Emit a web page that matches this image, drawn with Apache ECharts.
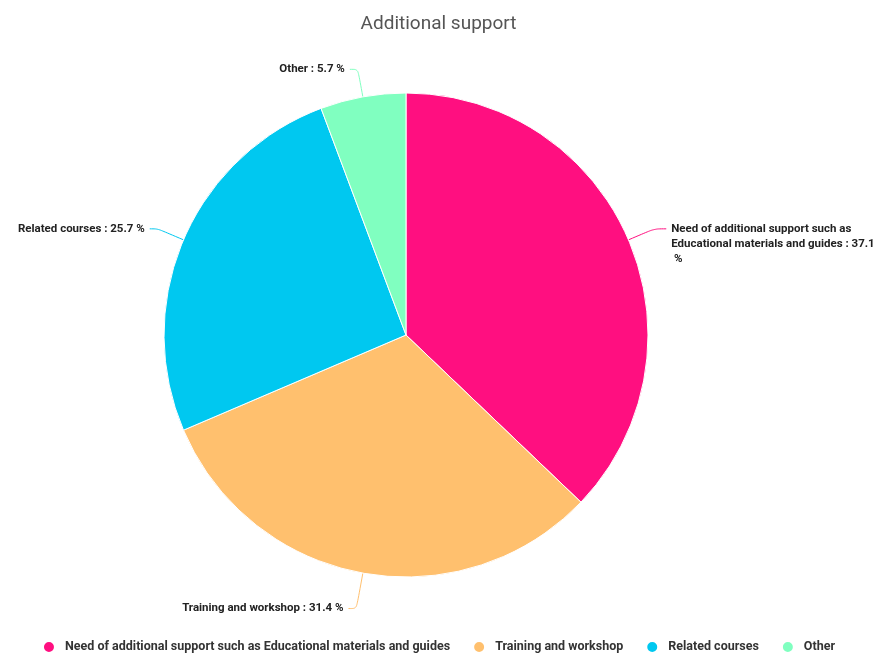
<!DOCTYPE html>
<html>
<head>
<meta charset="utf-8">
<script src="https://cdn.jsdelivr.net/npm/echarts@6/dist/echarts.min.js"></script>
<style>
  html, body { margin: 0; padding: 0; background: #fff; }
  #chart { width: 877px; height: 653px; }
</style>
</head>
<body>
<div id="chart"></div>
<script>
// Survey responses: kinds of additional support requested
const categories = [
  'Need of additional support such as Educational materials and guides',
  'Training and workshop',
  'Related courses',
  'Other'
];
const shares = [37.1, 31.4, 25.7, 5.7];
const sliceColors = ['#FF0F80', '#FFC06E', '#00C8F0', '#80FFC0'];

const chart = echarts.init(document.getElementById('chart'));

chart.setOption({
  backgroundColor: '#ffffff',
  color: sliceColors,
  title: {
    text: 'Additional support',
    left: 'center',
    top: 10,
    textStyle: {
      fontFamily: 'Roboto',
      fontSize: 19,
      fontWeight: 'normal',
      color: '#555555'
    }
  },
  legend: {
    top: 635,
    left: 'center',
    icon: 'circle',
    itemWidth: 12,
    itemHeight: 12,
    itemGap: 22,
    textStyle: {
      fontFamily: 'Roboto',
      fontSize: 12.5,
      fontWeight: 'bold',
      color: '#333333',
      padding: [0, 0, 0, 5]
    },
    data: categories
  },
  series: [{
    type: 'pie',
    center: [406, 335],
    radius: 242,
    startAngle: 90,
    clockwise: true,
    data: categories.map((name, i) => {
      const item = { name, value: shares[i] };
      if (i === 0) item.labelLine = { length2: 12 };
      if (i === 1) item.labelLine = { length: 36 };
      return item;
    }),
    label: {
      show: true,
      // the long first label hangs from its first line
      formatter: p => (p.dataIndex === 0 ? '\n\n' : '') + p.name + ' : ' + p.value + ' %',
      fontFamily: 'Roboto',
      fontSize: 11.5,
      fontWeight: 'bold',
      color: '#222222',
      width: 206,
      overflow: 'break',
      lineHeight: 15
    },
    labelLine: {
      show: true,
      length: 28,
      length2: 8,
      smooth: true,
      lineStyle: { width: 1 }
    },
    itemStyle: { borderColor: '#ffffff', borderWidth: 1 },
    emphasis: { disabled: true }
  }]
});
</script>
</body>
</html>
